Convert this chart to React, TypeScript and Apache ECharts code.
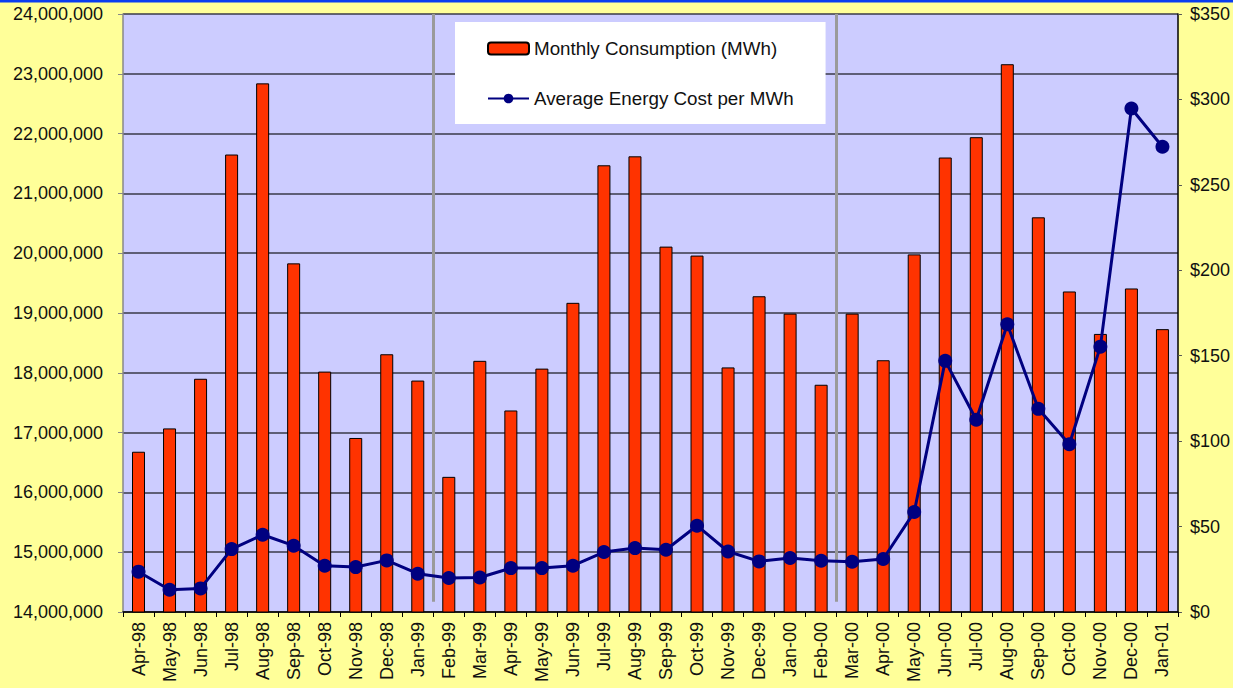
import React, { useEffect, useRef } from "react";
import * as echarts from "echarts";

const categories = [
  "Apr-98", "May-98", "Jun-98", "Jul-98", "Aug-98", "Sep-98", "Oct-98", "Nov-98", "Dec-98", "Jan-99",
  "Feb-99", "Mar-99", "Apr-99", "May-99", "Jun-99", "Jul-99", "Aug-99", "Sep-99", "Oct-99", "Nov-99",
  "Dec-99", "Jan-00", "Feb-00", "Mar-00", "Apr-00", "May-00", "Jun-00", "Jul-00", "Aug-00", "Sep-00",
  "Oct-00", "Nov-00", "Dec-00", "Jan-01",
];

const consumption = [
  16680000, 17070000, 17900000, 21650000, 22840000, 19830000, 18020000, 16910000, 18310000, 17870000,
  16260000, 18200000, 17370000, 18070000, 19170000, 21470000, 21620000, 20110000, 19960000, 18090000,
  19280000, 18990000, 17800000,
  18990000, 18210000, 19980000, 21600000, 21940000, 23160000, 20600000, 19360000, 18650000, 19410000,
  18730000,
];

const costPerMWh = [
  23.6, 13, 13.8, 36.8, 45.2, 38.8, 27.1, 26.3, 30.2, 22.4,
  19.9, 20.2, 25.7, 25.7, 27.1, 35.1, 37.4, 36.4, 50.5, 35.4,
  29.6, 31.6, 30,
  29.4, 31, 58.5, 147, 112.5, 168.4, 118.9, 98.2, 155.3, 294.7,
  272.3,
];

// Year-period separators are drawn before these categories
const separatorBefore = ["Feb-99", "Mar-00"];

const leftMin = 14000000;
const leftMax = 24000000;
const leftInterval = 1000000;
const rightMin = 0;
const rightMax = 350;
const rightInterval = 50;

const FONT = "'Liberation Sans', Arial, sans-serif";

export default function App() {
  const ref = useRef<HTMLDivElement>(null);

  useEffect(() => {
    document.body.style.margin = "0";
    const chart = echarts.init(ref.current!, null, { renderer: "svg" });
    const sepIdx = separatorBefore.map((c) => categories.indexOf(c));

    chart.setOption({
      animation: false,
      backgroundColor: "#FFFF99",
      textStyle: { fontFamily: FONT },
      graphic: [
        {
          type: "rect",
          shape: { x: 0, y: 0, width: 1233, height: 2.5 },
          style: { fill: "#0a3cf0" },
        },
      ],
      legend: {
        orient: "vertical",
        left: 455,
        top: 22,
        backgroundColor: "#ffffff",
        padding: [17, 32, 16, 32],
        itemGap: 31,
        itemWidth: 41,
        itemHeight: 12,
        textStyle: { fontFamily: FONT, fontSize: 18.8, color: "#111" },
        data: ["Monthly Consumption (MWh)", "Average Energy Cost per MWh"],
      },
      grid: {
        left: 123,
        right: 55,
        top: 14,
        bottom: 76,
        show: true,
        backgroundColor: "#CCCCFF",
        borderWidth: 0,
      },
      xAxis: [
        {
          type: "category",
          data: categories,
          boundaryGap: true,
          axisLine: { lineStyle: { color: "#000", width: 1.5 } },
          axisTick: { show: true, inside: false, length: 5, lineStyle: { color: "#000" } },
          axisLabel: {
            rotate: 90,
            interval: 0,
            margin: 10,
            fontSize: 18,
            color: "#111",
            fontFamily: FONT,
          },
          splitLine: { show: false },
        },
        {
          type: "value",
          min: 0,
          max: categories.length,
          show: false,
        },
      ],
      yAxis: [
        {
          type: "value",
          min: leftMin,
          max: leftMax,
          interval: leftInterval,
          position: "left",
          axisLine: { show: true, lineStyle: { color: "#888", width: 1.5 } },
          axisTick: { show: true, length: 5, lineStyle: { color: "#888" } },
          axisLabel: {
            margin: 20,
            fontSize: 18,
            color: "#111",
            fontFamily: FONT,
            formatter: (v: number) => v.toLocaleString("en-US"),
          },
          splitLine: { show: true, lineStyle: { color: "#3a3a48", width: 1.5 } },
        },
        {
          type: "value",
          min: rightMin,
          max: rightMax,
          interval: rightInterval,
          position: "right",
          axisLine: { show: true, lineStyle: { color: "#000", width: 1.5 } },
          axisTick: { show: true, length: 4, lineStyle: { color: "#555" } },
          axisLabel: {
            margin: 12,
            fontSize: 18,
            color: "#111",
            fontFamily: FONT,
            formatter: (v: number) => "$" + v,
          },
          splitLine: { show: false },
        },
      ],
      series: [
        {
          name: "Monthly Consumption (MWh)",
          type: "bar",
          xAxisIndex: 0,
          yAxisIndex: 0,
          data: consumption,
          barWidth: 13,
          itemStyle: { color: "#FF3300", borderColor: "#000", borderWidth: 1 },
        },
        {
          name: "separators",
          type: "line",
          xAxisIndex: 1,
          yAxisIndex: 0,
          data: [],
          markLine: {
            silent: true,
            symbol: "none",
            label: { show: false },
            lineStyle: { color: "#9a9a9a", width: 3, type: "solid" },
            data: sepIdx.map((i) => [
              { coord: [i, leftMax] },
              { coord: [i, leftMin + 170000] },
            ]),
          },
        },
        {
          name: "Average Energy Cost per MWh",
          type: "line",
          xAxisIndex: 0,
          yAxisIndex: 1,
          data: costPerMWh,
          symbol: "circle",
          symbolSize: 14,
          lineStyle: { color: "#000080", width: 3 },
          itemStyle: { color: "#000080" },
          z: 5,
        },
      ],
    });

    return () => chart.dispose();
  }, []);

  return (
    <div
      ref={ref}
      style={{ position: "fixed", left: 0, top: 0, width: 1233, height: 688 }}
    />
  );
}
